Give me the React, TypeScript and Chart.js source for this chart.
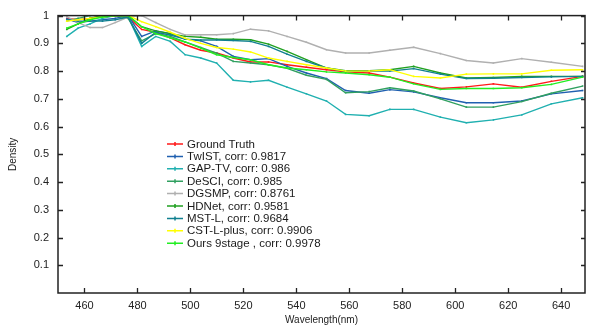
import React, { useEffect, useRef } from "react";
import { Chart, registerables } from "chart.js";

Chart.register(...registerables);

const wavelengths = [453.3, 457.6, 462.1, 466.8, 471.6, 476.5, 481.6, 486.9, 492.4, 498.0, 503.9, 509.9, 516.2, 522.7, 529.5, 536.5, 543.8, 551.4, 558.6, 567.5, 575.3, 584.3, 594.4, 604.2, 614.4, 625.1, 636.3, 648.1];

const groundTruth = [0.99, 0.985, 0.99, 1.0, 1.0, 0.995, 0.95, 0.94, 0.92, 0.895, 0.875, 0.865, 0.847, 0.833, 0.833, 0.823, 0.814, 0.805, 0.797, 0.793, 0.778, 0.757, 0.737, 0.743, 0.754, 0.742, 0.763, 0.781];
const twist = [0.988, 0.975, 0.98, 0.985, 0.99, 1.0, 0.925, 0.945, 0.935, 0.915, 0.909, 0.889, 0.853, 0.841, 0.845, 0.817, 0.793, 0.773, 0.73, 0.72, 0.733, 0.725, 0.704, 0.686, 0.686, 0.692, 0.718, 0.73];
const gapTv = [0.925, 0.955, 0.97, 0.99, 1.0, 0.995, 0.889, 0.925, 0.907, 0.859, 0.847, 0.829, 0.767, 0.761, 0.767, 0.742, 0.718, 0.692, 0.644, 0.639, 0.662, 0.662, 0.634, 0.614, 0.624, 0.642, 0.682, 0.704];
const desci = [0.98, 0.99, 1.0, 1.0, 1.0, 0.99, 0.909, 0.935, 0.925, 0.905, 0.885, 0.865, 0.835, 0.829, 0.823, 0.81, 0.785, 0.77, 0.722, 0.726, 0.74, 0.728, 0.7, 0.67, 0.67, 0.69, 0.72, 0.746];
const dgsmp = [0.996, 0.975, 0.957, 0.957, 0.975, 0.995, 1.0, 0.975, 0.95, 0.93, 0.931, 0.931, 0.935, 0.951, 0.945, 0.925, 0.904, 0.877, 0.865, 0.865, 0.875, 0.886, 0.863, 0.838, 0.829, 0.845, 0.832, 0.817];
const hdnet = [0.95, 0.97, 0.99, 1.0, 1.0, 1.0, 0.96, 0.945, 0.935, 0.925, 0.922, 0.915, 0.915, 0.913, 0.897, 0.871, 0.841, 0.811, 0.801, 0.801, 0.805, 0.817, 0.793, 0.775, 0.777, 0.781, 0.781, 0.781];
const mstL = [0.985, 0.98, 0.98, 0.98, 0.985, 0.995, 0.9, 0.94, 0.93, 0.915, 0.912, 0.912, 0.91, 0.907, 0.889, 0.861, 0.835, 0.811, 0.799, 0.8, 0.8, 0.809, 0.789, 0.773, 0.774, 0.777, 0.779, 0.781];
const cstLPlus = [0.98, 0.985, 0.99, 0.995, 1.0, 1.0, 0.978, 0.96, 0.94, 0.918, 0.9, 0.885, 0.879, 0.869, 0.847, 0.835, 0.823, 0.811, 0.8, 0.8, 0.805, 0.781, 0.775, 0.789, 0.79, 0.79, 0.803, 0.805];
const ours = [0.955, 0.97, 0.985, 0.995, 1.0, 1.0, 0.96, 0.935, 0.92, 0.905, 0.883, 0.859, 0.849, 0.841, 0.823, 0.811, 0.805, 0.797, 0.793, 0.787, 0.778, 0.754, 0.734, 0.737, 0.737, 0.74, 0.752, 0.778];

const seriesLabels = [
  "Ground Truth",
  "TwIST, corr: 0.9817",
  "GAP-TV, corr: 0.986",
  "DeSCI, corr: 0.985",
  "DGSMP, corr: 0.8761",
  "HDNet, corr: 0.9581",
  "MST-L, corr: 0.9684",
  "CST-L-plus, corr: 0.9906",
  "Ours 9stage , corr: 0.9978",
];
const seriesValues = [groundTruth, twist, gapTv, desci, dgsmp, hdnet, mstL, cstLPlus, ours];
const seriesColors = ["#ff1a1a", "#2060b0", "#20b0b0", "#30a060", "#b0b0b0", "#20a020", "#108090", "#ffff00", "#22ee22"];

const xTickValues = [460, 480, 500, 520, 540, 560, 580, 600, 620, 640];
const yTickValues = [0.1, 0.2, 0.3, 0.4, 0.5, 0.6, 0.7, 0.8, 0.9, 1];

const FONT = "'Liberation Sans', Arial, sans-serif";

const framePlugin = {
  id: "frameTicks",
  afterDraw(chart: any) {
    const ctx = chart.ctx;
    const { left, right, top, bottom } = chart.chartArea;
    const xs = chart.scales.x;
    const ys = chart.scales.y;
    ctx.save();
    ctx.strokeStyle = "#222";
    ctx.lineWidth = 1.5;
    ctx.strokeRect(left, top, right - left, bottom - top);
    ctx.lineWidth = 1.3;
    ctx.beginPath();
    for (const v of xTickValues) {
      const px = Math.round(xs.getPixelForValue(v)) + 0.5;
      ctx.moveTo(px, bottom);
      ctx.lineTo(px, bottom - 5);
      ctx.moveTo(px, top);
      ctx.lineTo(px, top + 5);
    }
    for (const v of yTickValues) {
      const py = Math.round(ys.getPixelForValue(v)) + 0.5;
      ctx.moveTo(left, py);
      ctx.lineTo(left + 5, py);
      ctx.moveTo(right, py);
      ctx.lineTo(right - 4, py);
    }
    ctx.stroke();

    // legend
    const lx = 167;
    const ly = 144;
    const step = 12.4;
    ctx.font = `11.5px ${FONT}`;
    ctx.textBaseline = "middle";
    ctx.textAlign = "left";
    chart.data.datasets.forEach((ds: any, i: number) => {
      const y = ly + i * step;
      ctx.strokeStyle = ds.borderColor;
      ctx.lineWidth = 1.5;
      ctx.beginPath();
      ctx.moveTo(lx, y);
      ctx.lineTo(lx + 16, y);
      ctx.moveTo(lx + 8, y - 2);
      ctx.lineTo(lx + 8, y + 2);
      ctx.stroke();
      ctx.fillStyle = "#1a1a1a";
      ctx.fillText(ds.label, lx + 20, y + 0.5);
    });
    ctx.restore();
  },
};

export default function App() {
  const ref = useRef<HTMLCanvasElement | null>(null);
  useEffect(() => {
    if (!ref.current) return;
    const n = seriesValues.length;
    const chart = new Chart(ref.current, {
      type: "line",
      data: {
        datasets: seriesValues.map((vals, i) => ({
          label: seriesLabels[i],
          data: vals.map((v, j) => ({ x: wavelengths[j], y: v })),
          borderColor: seriesColors[i],
          backgroundColor: seriesColors[i],
          borderWidth: 1.4,
          pointRadius: 1.1,
          pointStyle: "rect",
          pointBorderWidth: 0,
          tension: 0,
          fill: false,
          order: n - i,
        })),
      },
      options: {
        responsive: false,
        animation: false,
        layout: { padding: { left: 0, right: 1, top: 14, bottom: 0 } },
        plugins: { legend: { display: false }, tooltip: { enabled: false } },
        scales: {
          x: {
            type: "linear",
            min: 450,
            max: 649,
            afterBuildTicks: (s: any) => {
              s.ticks = xTickValues.map((v) => ({ value: v }));
            },
            afterFit: (s: any) => {
              s.height = 38;
            },
            grid: { display: false, drawTicks: false },
            border: { display: false },
            ticks: {
              padding: 6,
              maxRotation: 0,
              autoSkip: false,
              color: "#222",
              font: { family: FONT, size: 11 },
            },
            title: {
              display: true,
              text: "Wavelength(nm)",
              color: "#222",
              font: { family: FONT, size: 10 },
              padding: { top: 0, bottom: 5 },
            },
          },
          y: {
            type: "linear",
            min: 0,
            max: 1,
            afterBuildTicks: (s: any) => {
              s.ticks = yTickValues.map((v) => ({ value: v }));
            },
            afterFit: (s: any) => {
              s.width = 58;
            },
            grid: { display: false, drawTicks: false },
            border: { display: false },
            ticks: {
              padding: 9,
              autoSkip: false,
              color: "#222",
              font: { family: FONT, size: 11 },
              callback: (v: any) => String(Number(Number(v).toFixed(1))),
            },
            title: {
              display: true,
              text: "Density",
              color: "#222",
              font: { family: FONT, size: 10 },
              padding: { top: 7, bottom: 0 },
            },
          },
        },
      },
      plugins: [
        {
          id: "bg",
          beforeDraw(c: any) {
            const ctx = c.ctx;
            ctx.save();
            ctx.fillStyle = "#fff";
            ctx.fillRect(0, 0, c.width, c.height);
            ctx.restore();
          },
        },
        framePlugin,
      ],
    });
    return () => chart.destroy();
  }, []);
  return (
    <div style={{ position: "absolute", left: 0, top: 0, width: 589, height: 331, background: "#fff" }}>
      <canvas ref={ref} width={589} height={331} style={{ width: 589, height: 331 }} />
    </div>
  );
}
